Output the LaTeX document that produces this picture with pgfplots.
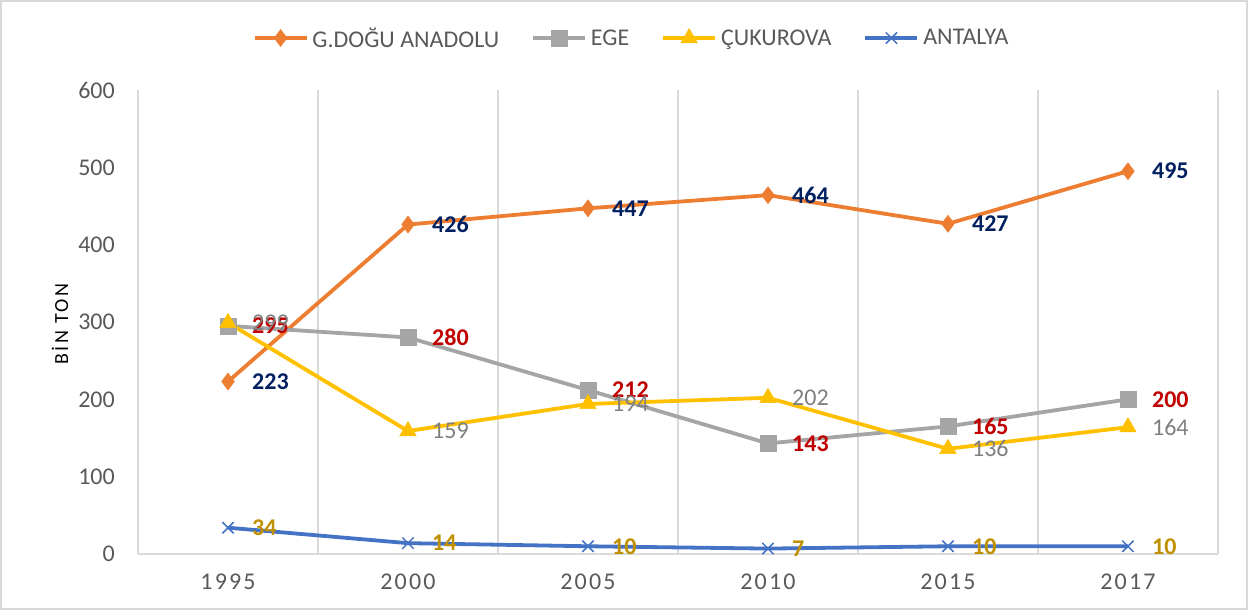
\documentclass[border=0pt]{standalone}
\usepackage{fontspec}
\setmainfont{Carlito}
\usepackage{pgfplots}
\usepackage{pgfplotstable}
\pgfplotsset{compat=1.18}
\definecolor{cOr}{HTML}{ED7D31}
\definecolor{cGr}{HTML}{A5A5A5}
\definecolor{cGo}{HTML}{FFC000}
\definecolor{cBl}{HTML}{4472C4}
\definecolor{cNavy}{HTML}{002060}
\definecolor{cRed}{HTML}{C00000}
\definecolor{cLGr}{HTML}{7F7F7F}
\definecolor{cLGo}{HTML}{BF9000}
\definecolor{cGrid}{HTML}{D9D9D9}
\definecolor{cTick}{HTML}{595959}
\pgfplotstableread{
x G E C A
0 223 295 299 34
1 426 280 159 14
2 447 212 194 10
3 464 143 202 7
4 427 165 136 10
5 495 200 164 10
}\datatable
\newcommand{\fs}{\fontsize{24bp}{28bp}\selectfont}
\begin{document}
\begin{tikzpicture}[x=1bp,y=1bp]
\begin{axis}[
  at={(0bp,0bp)}, anchor=south west,
  scale only axis, width=1080bp, height=464bp,
  xmin=-0.5, xmax=5.5, ymin=0, ymax=600,
  xtick={0,...,5}, xticklabels={1995,2000,2005,2010,2015,2017},
  minor xtick={-0.5,0.5,...,5.5}, xminorgrids,
  minor grid style={draw=cGrid, line width=1.2bp},
  ytick={0,100,...,600},
  major tick length=0pt, minor tick length=0pt,
  axis x line*=bottom, axis y line*=left,
  axis line style={draw=cGrid, line width=1.2bp},
  /pgf/number format/assume math mode=true,
  tick label style={font=\fs, text=cTick},
  yticklabel style={inner sep=0pt, xshift=-23bp},
  xticklabel style={inner sep=0pt, yshift=-20bp, font=\fs\addfontfeature{LetterSpace=9}},
  legend style={at={(0.457,1.112)}, anchor=center, draw=none, fill=none,
     legend columns=4, font=\fs, text=cTick,
     /tikz/every even column/.append style={column sep=30bp},
     /tikz/every odd column/.append style={column sep=2bp}},
  legend cell align=left,
  legend image code/.code={\draw[mark repeat=2,mark phase=2,#1] plot coordinates {(0bp,0bp) (26bp,0bp) (52bp,0bp)};},
  clip=false,
]
\addplot[color=cOr, line width=3.8bp, mark=diamond*, mark size=8.5bp, mark options={solid, fill=cOr, line width=0.5bp}] table[x=x,y=G]{\datatable};
\addlegendentry{G.DOĞU ANADOLU}
\addplot[color=cGr, line width=3.8bp, mark=square*, mark size=8bp, mark options={solid, fill=cGr, line width=0.5bp}] table[x=x,y=E]{\datatable};
\addlegendentry{EGE}
\addplot[color=cGo, line width=3.8bp, mark=triangle*, mark size=9.5bp, mark options={solid, fill=cGo, line width=0.5bp}] table[x=x,y=C]{\datatable};
\addlegendentry{ÇUKUROVA}
\addplot[color=cBl, line width=3.8bp, mark=x, mark size=8bp, mark options={solid, line width=1.5bp}] table[x=x,y=A]{\datatable};
\addlegendentry{ANTALYA}

\addplot[forget plot, only marks, mark=*, mark size=0pt, mark options={draw=none,fill=none}, point meta=y, nodes near coords,
  every node near coord/.append style={anchor=west, inner sep=0pt, xshift=24bp, font=\fs\bfseries, text=cNavy}] table[x=x,y=G]{\datatable};
\addplot[forget plot, only marks, mark=*, mark size=0pt, mark options={draw=none,fill=none}, point meta=y, nodes near coords,
  every node near coord/.append style={anchor=west, inner sep=0pt, xshift=24bp, font=\fs\bfseries, text=cRed}] table[x=x,y=E]{\datatable};
\addplot[forget plot, only marks, mark=*, mark size=0pt, mark options={draw=none,fill=none}, point meta=y, nodes near coords,
  every node near coord/.append style={anchor=west, inner sep=0pt, xshift=24bp, font=\fs, text=cLGr}] table[x=x,y=C]{\datatable};
\addplot[forget plot, only marks, mark=*, mark size=0pt, mark options={draw=none,fill=none}, point meta=y, nodes near coords,
  every node near coord/.append style={anchor=west, inner sep=0pt, xshift=24bp, font=\fs\bfseries, text=cLGo}] table[x=x,y=A]{\datatable};
\end{axis}
\node[rotate=90, font=\fontsize{20bp}{24bp}\selectfont\addfontfeature{LetterSpace=12}, text=black, inner sep=0pt] at (-78bp,230bp) {BİN TON};
\draw[cGrid, line width=1.2bp] (-137bp,-55bp) rectangle (1109bp,553bp);
\pgfresetboundingbox
\path (-138bp,-56bp) rectangle (1110bp,554bp);
\end{tikzpicture}
\end{document}
